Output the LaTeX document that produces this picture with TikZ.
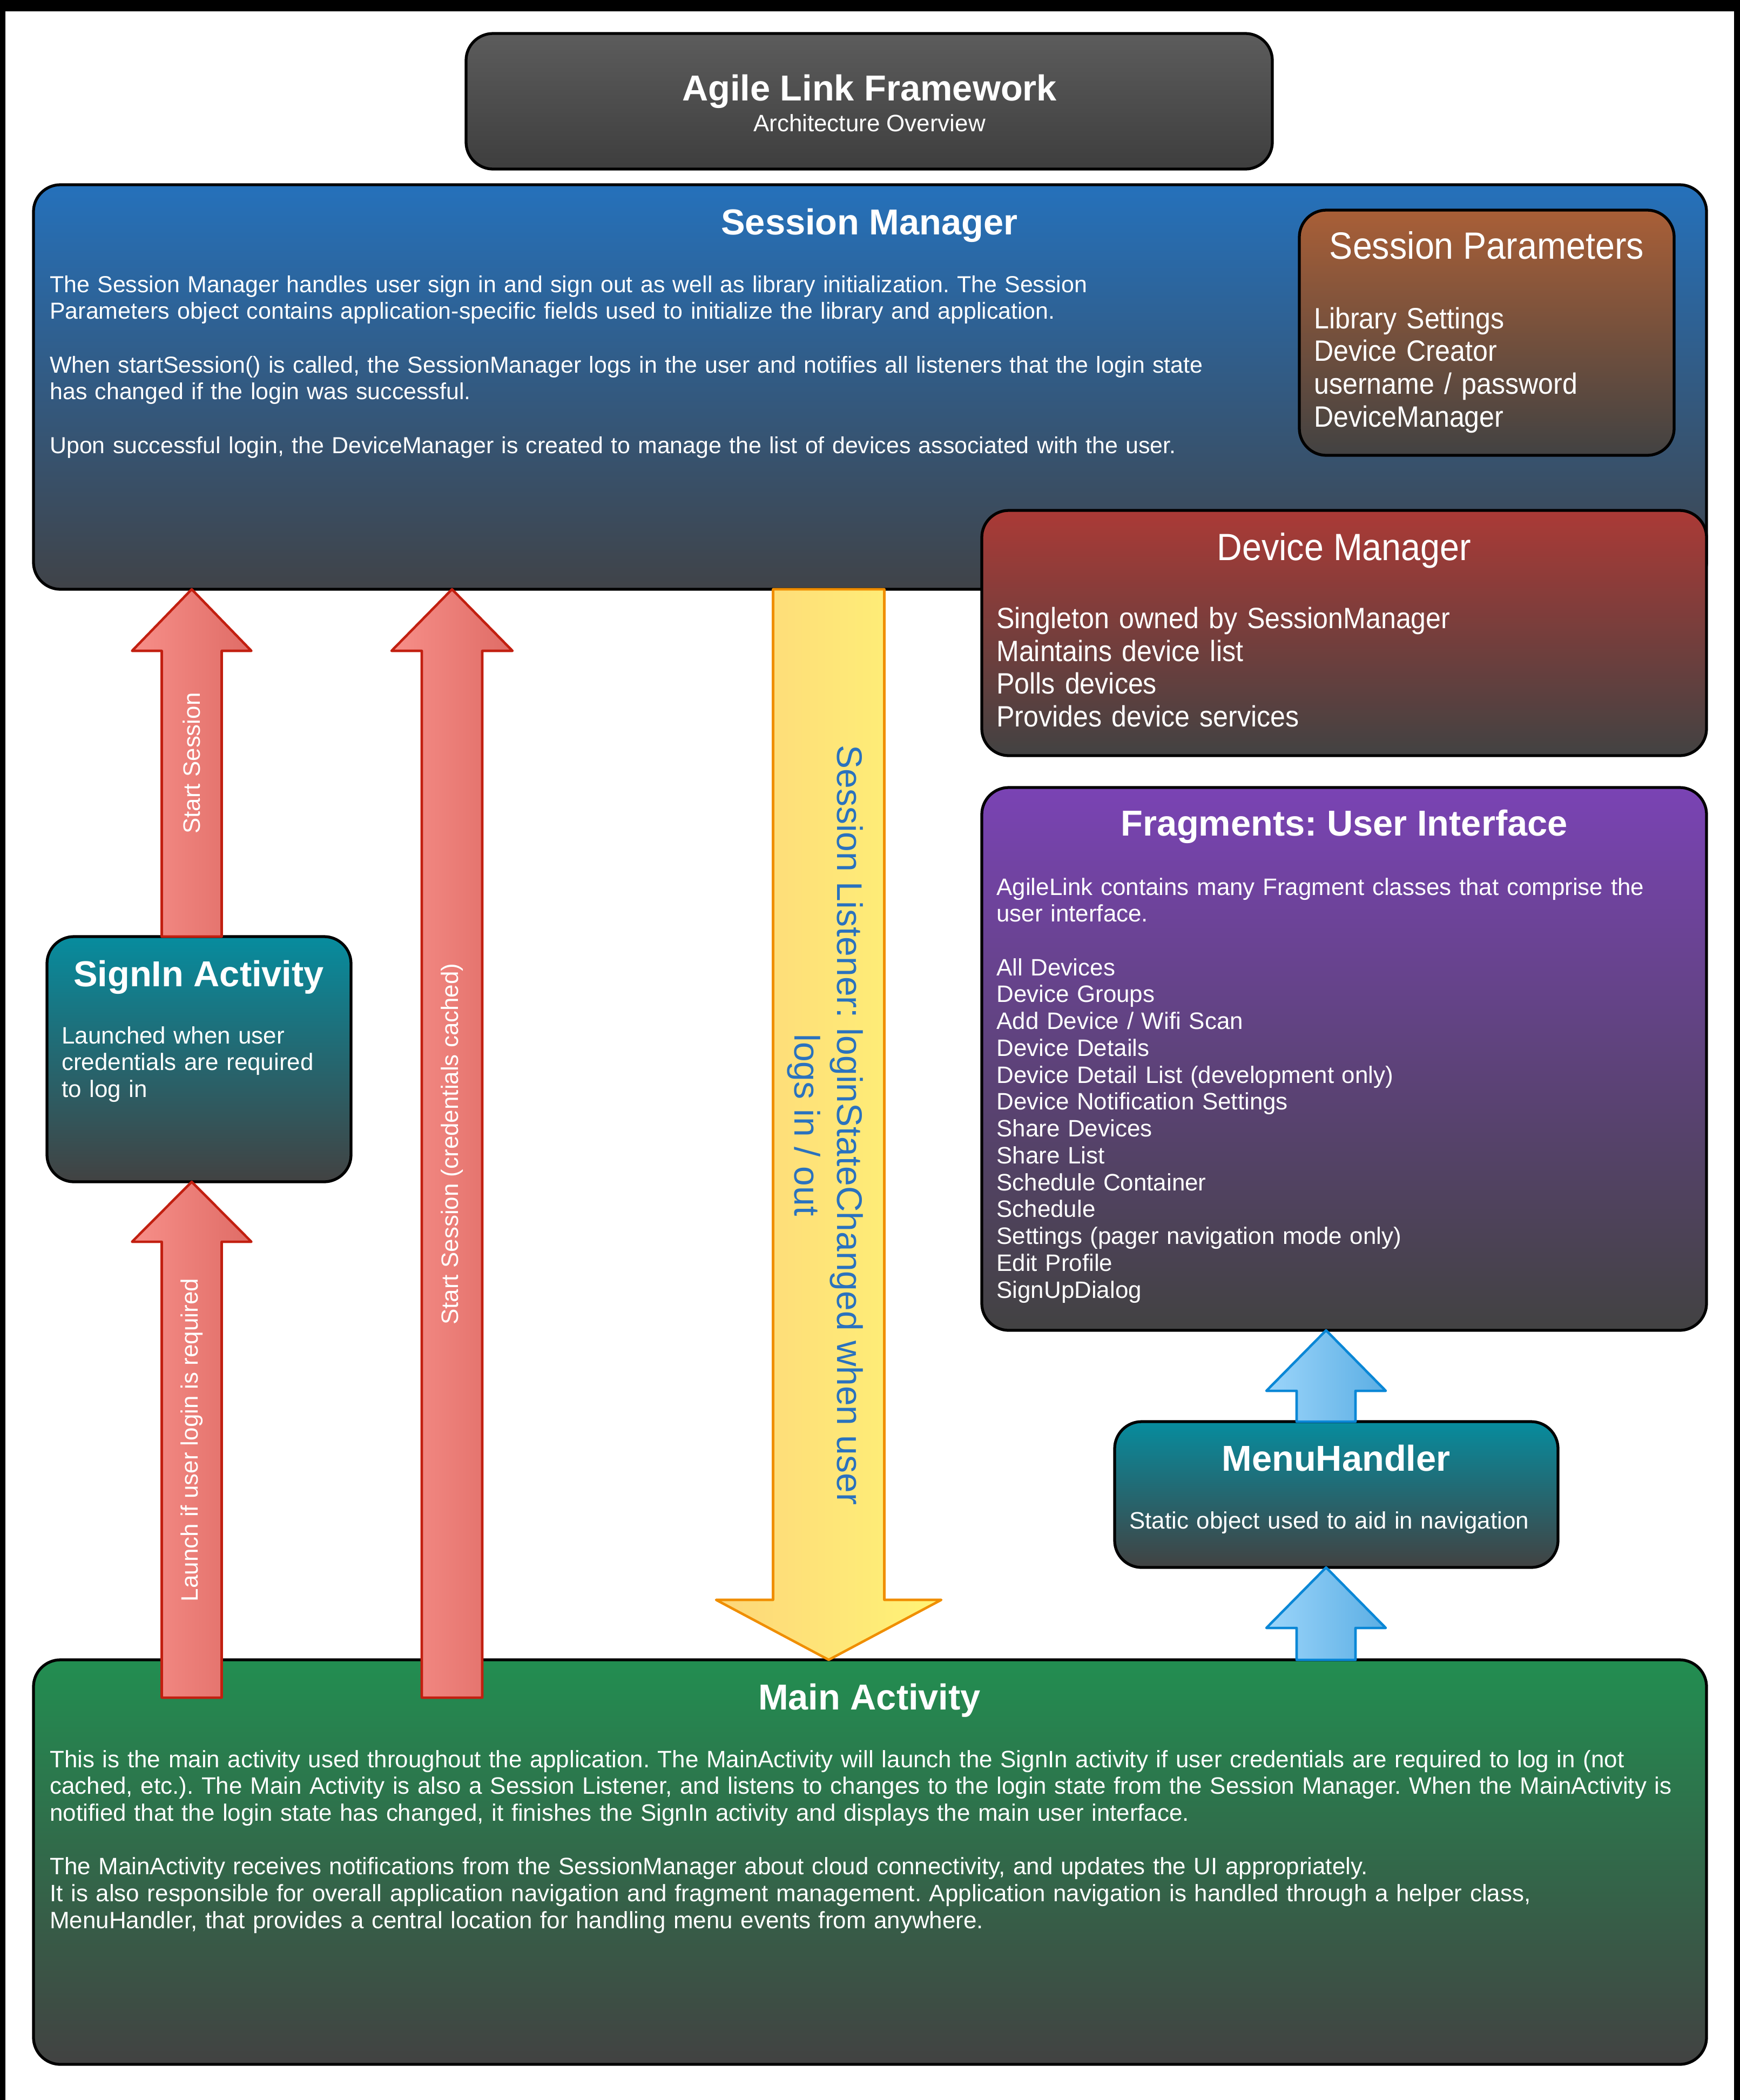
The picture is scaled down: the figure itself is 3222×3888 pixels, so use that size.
\documentclass[tikz,border=0pt]{standalone}
\usepackage{fontspec}
\setmainfont{Liberation Sans}
\newfontfamily\condfont[FakeStretch=0.92]{Liberation Sans}
\usetikzlibrary{calc}
\frenchspacing
\definecolor{ttop}{HTML}{5C5C5C}\definecolor{tbot}{HTML}{3E3E3E}
\definecolor{smtop}{HTML}{2571BB}\definecolor{smbot}{HTML}{404348}
\definecolor{gbot}{HTML}{424242}
\definecolor{sptop}{HTML}{A95F37}
\definecolor{dmtop}{HTML}{AB3A36}
\definecolor{frtop}{HTML}{7A43B4}
\definecolor{tltop}{HTML}{078C9E}
\definecolor{mntop}{HTML}{228E51}
\definecolor{redL}{HTML}{F78F89}\definecolor{redR}{HTML}{DF6C66}\definecolor{redD}{HTML}{C21F10}
\definecolor{yelL}{HTML}{FDD67A}\definecolor{yelR}{HTML}{FFF476}\definecolor{yelD}{HTML}{F08E00}
\definecolor{bluL}{HTML}{9CD5FA}\definecolor{bluR}{HTML}{5BAEE4}\definecolor{bluD}{HTML}{0A87D6}
\definecolor{ytext}{HTML}{2A72BE}
\newcommand{\blockarrow}[6]{%
  \draw[#1] let \p1=(#2), \p2=(#3) in
    ({\x1-#4},{\y1}) -- ({\x1-#4},{\y2+(#6)}) -- ({\x1-#5},{\y2+(#6)}) -- ({\x2},{\y2}) --
    ({\x1+#5},{\y2+(#6)}) -- ({\x1+#4},{\y2+(#6)}) -- ({\x1+#4},{\y1}) -- cycle;}
\begin{document}
\frenchspacing
\begin{tikzpicture}[x=0.2mm,y=-0.2mm,
  box/.style={draw=black, line width=3pt, rounded corners=10mm, inner sep=0pt, outer sep=0pt},
  title/.style={text=white, inner sep=0pt, anchor=base, font=\bfseries\fontsize{38}{44}\selectfont},
  condtitle/.style={text=white, inner sep=0pt, anchor=base, font=\condfont\fontsize{40}{46}\selectfont},
  body/.style={text=white, inner sep=0pt, anchor=base west, align=left, font=\fontsize{25}{28.3}\selectfont},
  condbody/.style={text=white, inner sep=0pt, anchor=base west, align=left, font=\condfont\fontsize{31}{34.7}\selectfont},
  lbl/.style={text=white, inner sep=0pt, font=\fontsize{25}{28}\selectfont},
  redarrow/.style={left color=redL, right color=redR, draw=redD, line width=2.6pt, line join=round},
  yelarrow/.style={left color=yelL, right color=yelR, draw=yelD, line width=2.6pt, line join=round},
  bluarrow/.style={left color=bluL, right color=bluR, draw=bluD, line width=2.6pt, line join=round}]
% page and frame
\fill[white] (0,0) rectangle (3222,3888);
\useasboundingbox (0,0) rectangle (3222,3888);
\fill[black] (0,0) rectangle (3222,21);
\fill[black] (0,0) rectangle (10,3888);
\fill[black] (3211,0) rectangle (3222,3888);
% boxes
\node[box, top color=ttop, bottom color=tbot, minimum width=298.6mm, minimum height=50.2mm] (ttl) at (1609.5,187.5) {};
\node[box, top color=smtop, bottom color=smbot, minimum width=619.6mm, minimum height=149.8mm] (sm) at (1611,716.5) {};
\node[box, top color=sptop, bottom color=gbot, minimum width=138.8mm, minimum height=90.8mm] (sp) at (2753,616) {};
\node[box, top color=dmtop, bottom color=gbot, minimum width=268.4mm, minimum height=90.8mm] (dm) at (2489,1172) {};
\node[box, top color=frtop, bottom color=gbot, minimum width=268.4mm, minimum height=201mm] (frag) at (2489,1960.5) {};
\node[box, top color=tltop, bottom color=gbot, minimum width=164.2mm, minimum height=54mm] (menu) at (2474.5,2767) {};
\node[box, top color=tltop, bottom color=gbot, minimum width=112.6mm, minimum height=90.8mm] (signin) at (368.5,1961) {};
\node[box, top color=mntop, bottom color=gbot, minimum width=619.6mm, minimum height=149.8mm] (main) at (1611,3447.5) {};
% arrow axes
\coordinate (xr1) at (355,0);
\coordinate (xr2) at (837,0);
\coordinate (xy) at (1534.5,0);
\coordinate (xb) at (2455.5,0);
% arrows
\blockarrow{redarrow}{signin.north -| xr1}{sm.south -| xr1}{11.1mm}{22.1mm}{-22.8mm}
\blockarrow{redarrow}{$(main.north -| xr2)+(0,70)$}{sm.south -| xr2}{11.2mm}{22.4mm}{-22.8mm}
\blockarrow{redarrow}{$(main.north -| xr1)+(0,70)$}{signin.south -| xr1}{11.1mm}{22.1mm}{-22.2mm}
\blockarrow{yelarrow}{sm.south -| xy}{main.north -| xy}{20.6mm}{41.7mm}{22.2mm}
\blockarrow{bluarrow}{menu.north -| xb}{frag.south -| xb}{10.9mm}{22.1mm}{-22.4mm}
\blockarrow{bluarrow}{main.north -| xb}{menu.south -| xb}{10.9mm}{22.1mm}{-22.4mm}
% arrow labels
\node[lbl, rotate=90] (l1) at (355,1413) {Start Session};
\node[lbl, rotate=90] (l2) at (837,2118) {Start Session (credentials cached)};
\node[lbl, rotate=90] (l3) at (355,2666) {Launch if user login is required};
\node[text=ytext, inner sep=0pt, rotate=-90, align=center, font=\fontsize{37.5}{45}\selectfont] (l4) at (1528,2083)
  {Session Listener: loginStateChanged when user\\logs in / out};
% texts
\node[title] (ttlA) at (1610,186) {Agile Link Framework};
\node[text=white, inner sep=0pt, anchor=base, font=\fontsize{25}{28}\selectfont] (ttlB) at (1610,243) {Architecture Overview};
\node[title] (smT) at (1610,434) {Session Manager};
\node[body, text width=580mm, font=\fontsize{24.4}{28.3}\selectfont] (smB) at (92,541) {The Session Manager handles user sign in and sign out as well as library initialization. The Session\\
Parameters object contains application-specific fields used to initialize the library and application.\\[28.3pt]
When startSession() is called, the SessionManager logs in the user and notifies all listeners that the login state\\
has changed if the login was successful.\\[28.3pt]
Upon successful login, the DeviceManager is created to manage the list of devices associated with the user.};
\node[condtitle] (spT) at (2753,479) {Session Parameters};
\node[condbody, text width=130mm] (spB) at (2433,608) {Library Settings\\Device Creator\\username / password\\DeviceManager};
\node[condtitle] (dmT) at (2489,1037) {Device Manager};
\node[condbody, text width=250mm] (dmB) at (1845,1163) {Singleton owned by SessionManager\\Maintains device list\\Polls devices\\Provides device services};
\node[title] (frT) at (2489,1547) {Fragments: User Interface};
\node[body, text width=260mm] (frB) at (1845,1657) {AgileLink contains many Fragment classes that comprise the\\user interface.\\[28.3pt]
All Devices\\Device Groups\\Add Device / Wifi Scan\\Device Details\\Device Detail List (development only)\\Device Notification Settings\\Share Devices\\Share List\\Schedule Container\\Schedule\\Settings (pager navigation mode only)\\Edit Profile\\SignUpDialog};
\node[title] (siT) at (368,1826) {SignIn Activity};
\node[body, text width=105mm] (siB) at (114,1932) {Launched when user\\credentials are required\\to log in};
\node[title] (mhT) at (2474,2723) {MenuHandler};
\node[body, text width=160mm] (mhB) at (2091,2830) {Static object used to aid in navigation};
\node[title] (maT) at (1610,3165) {Main Activity};
\node[body, text width=610mm] (maB) at (92,3272) {This is the main activity used throughout the application. The MainActivity will launch the SignIn activity if user credentials are required to log in (not\\
cached, etc.). The Main Activity is also a Session Listener, and listens to changes to the login state from the Session Manager. When the MainActivity is\\
notified that the login state has changed, it finishes the SignIn activity and displays the main user interface.\\[28.3pt]
The MainActivity receives notifications from the SessionManager about cloud connectivity, and updates the UI appropriately.\\
It is also responsible for overall application navigation and fragment management. Application navigation is handled through a helper class,\\
MenuHandler, that provides a central location for handling menu events from anywhere.};
\end{tikzpicture}
\end{document}
